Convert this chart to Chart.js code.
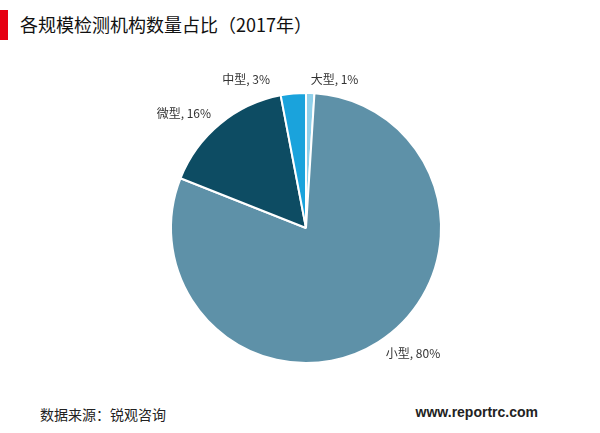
<!DOCTYPE html>
<html><head><meta charset="utf-8">
<script src="https://cdn.jsdelivr.net/npm/chart.js@4"></script>
<style>
body{margin:0;width:600px;height:433px;background:#fff;font-family:"Noto Sans CJK SC","Noto Sans",sans-serif;overflow:hidden;position:relative}
#bar{position:absolute;left:0;top:10px;width:8px;height:30px;background:#e60012}
#title{position:absolute;left:20px;top:11px;font-size:18px;color:#111}
#src{position:absolute;left:40px;top:404px;font-size:14px;color:#222}
#url{position:absolute;right:62px;top:404px;font-size:14px;font-weight:bold;color:#222;font-family:Arial,"Liberation Sans",sans-serif}
canvas{position:absolute;left:0;top:0}
</style></head><body>
<div id="bar"></div>
<div id="title">各规模检测机构数量占比（2017年）</div>
<div id="src">数据来源：锐观咨询</div>
<div id="url">www.reportrc.com</div>
<canvas id="c" width="600" height="433"></canvas>
<script>
const categories = ['大型', '小型', '微型', '中型'];
const shares = [1, 80, 16, 3];
const colors = ['#8fd0ea', '#5e91a8', '#0d4c63', '#1aa3dc'];

// label nudges for the crowded slices near the top
const nudge = { '大型': [0, 0], '中型': [-22, 0] };

const labelPlugin = {
    id: 'outLabels',
    afterDatasetsDraw(chart) {
        const ctx = chart.ctx;
        const arcs = chart.getDatasetMeta(0).data;
        ctx.save();
        ctx.font = '12px "Noto Sans CJK SC", sans-serif';
        ctx.fillStyle = '#333';
        ctx.textBaseline = 'middle';
        arcs.forEach((arc, i) => {
            const mid = (arc.startAngle + arc.endAngle) / 2;
            const r = arc.outerRadius + 14;
            const n = nudge[categories[i]] || [0, 0];
            const x = arc.x + Math.cos(mid) * r + n[0];
            const y = arc.y + Math.sin(mid) * r + n[1];
            ctx.textAlign = Math.cos(mid) >= 0 ? 'left' : 'right';
            ctx.fillText(categories[i] + ', ' + shares[i] + '%', x, y);
        });
        ctx.restore();
    }
};

new Chart(document.getElementById('c'), {
    type: 'pie',
    data: {
        labels: categories,
        datasets: [{ data: shares, backgroundColor: colors, borderColor: '#fff', borderWidth: 2 }]
    },
    options: {
        responsive: false,
        animation: false,
        layout: { padding: { top: 92, bottom: 69, left: 170, right: 158 } },
        plugins: { legend: { display: false }, tooltip: { enabled: false } }
    },
    plugins: [labelPlugin]
});
</script>
</body></html>
